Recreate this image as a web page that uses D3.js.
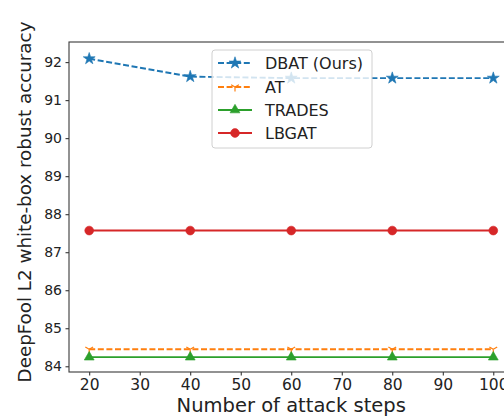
<!DOCTYPE html>
<html>
<head>
<meta charset="utf-8">
<script src="https://cdn.jsdelivr.net/npm/d3@7"></script>
<style>
  body { margin: 0; background: #fff; }
  text { font-family: "DejaVu Sans", sans-serif; fill: #222; }
</style>
</head>
<body>
<svg id="chart" width="504" height="420"></svg>
<script>
// Attack steps on the x axis
const steps = [20, 40, 60, 80, 100];

// Robust accuracy (%) per method
const dbatValues   = [92.09, 91.62, 91.58, 91.58, 91.58];
const atValues     = [84.45, 84.45, 84.45, 84.45, 84.45];
const tradesValues = [84.24, 84.24, 84.24, 84.24, 84.24];
const lbgatValues  = [87.57, 87.57, 87.57, 87.57, 87.57];

const seriesNames = ["DBAT (Ours)", "AT", "TRADES", "LBGAT"];

// Tick labels
const xTicks = [20, 30, 40, 50, 60, 70, 80, 90, 100];
const yTicks = [84, 85, 86, 87, 88, 89, 90, 91, 92];

const xLabel = "Number of attack steps";
const yLabel = "DeepFool L2 white-box robust accuracy";

const series = [
  { name: seriesNames[0], values: dbatValues,   color: "#1f77b4", dash: "6,2.6", marker: "star" },
  { name: seriesNames[1], values: atValues,     color: "#ff7f0e", dash: "6,2.6", marker: "tri" },
  { name: seriesNames[2], values: tradesValues, color: "#2ca02c", dash: null,    marker: "triangle" },
  { name: seriesNames[3], values: lbgatValues,  color: "#d62728", dash: null,    marker: "circle" }
];

const svg = d3.select("#chart");
const plot = { left: 69, right: 513.5, top: 42, bottom: 372 };

const x = d3.scaleLinear().domain([16, 104]).range([plot.left, plot.right]);
const y = d3.scaleLinear().domain([83.85, 92.53]).range([plot.bottom, plot.top]);

svg.append("defs").append("clipPath").attr("id", "plot-clip")
  .append("rect")
  .attr("x", plot.left).attr("y", plot.top)
  .attr("width", plot.right - plot.left).attr("height", plot.bottom - plot.top);

// Axes
const xAxis = svg.append("g")
  .attr("transform", `translate(0,${plot.bottom})`)
  .call(d3.axisBottom(x).tickValues(xTicks).tickSize(3.5).tickPadding(3.5));
xAxis.select(".domain").remove();
xAxis.selectAll("line").attr("stroke", "#222").attr("stroke-width", 1);
xAxis.selectAll("text").style("font-size", "15.5px").attr("fill", "#222");

const yAxis = svg.append("g")
  .attr("transform", `translate(${plot.left},0)`)
  .call(d3.axisLeft(y).tickValues(yTicks).tickSize(3.5).tickPadding(3.5));
yAxis.select(".domain").remove();
yAxis.selectAll("line").attr("stroke", "#222").attr("stroke-width", 1);
yAxis.selectAll("text").style("font-size", "14px").attr("fill", "#222");

// Axis labels
svg.append("text")
  .attr("x", (plot.left + plot.right) / 2)
  .attr("y", 412)
  .attr("text-anchor", "middle")
  .style("font-size", "19.5px")
  .text(xLabel);

svg.append("text")
  .attr("transform", `translate(31,${(plot.top + plot.bottom) / 2 - 5}) rotate(-90)`)
  .attr("text-anchor", "middle")
  .style("font-size", "18.3px")
  .text(yLabel);

// Marker drawing
function drawMarker(g, type, color, cx, cy) {
  if (type === "star") {
    g.append("path")
      .attr("d", d3.symbol(d3.symbolStar, 44)())
      .attr("transform", `translate(${cx},${cy})`)
      .attr("fill", color).attr("stroke", color).attr("stroke-width", 0.6);
  } else if (type === "triangle") {
    g.append("path")
      .attr("d", d3.symbol(d3.symbolTriangle, 42)())
      .attr("transform", `translate(${cx},${cy})`)
      .attr("fill", color).attr("stroke", color).attr("stroke-width", 0.6);
  } else if (type === "circle") {
    g.append("circle")
      .attr("cx", cx).attr("cy", cy).attr("r", 4.4)
      .attr("fill", color).attr("stroke", color).attr("stroke-width", 0.6);
  } else if (type === "tri") {
    const r = 4.5;
    [90, 210, 330].forEach(a => {
      const rad = a * Math.PI / 180;
      g.append("line")
        .attr("x1", cx).attr("y1", cy)
        .attr("x2", cx + r * Math.cos(rad)).attr("y2", cy + r * Math.sin(rad))
        .attr("stroke", color).attr("stroke-width", 1.2);
    });
  }
}

// Lines and markers
const line = d3.line().x((d, i) => x(steps[i])).y(d => y(d));
const dataLayer = svg.append("g").attr("clip-path", "url(#plot-clip)");

series.forEach(s => {
  const g = dataLayer.append("g");
  g.append("path")
    .datum(s.values)
    .attr("d", line)
    .attr("fill", "none")
    .attr("stroke", s.color)
    .attr("stroke-width", 1.9)
    .attr("stroke-dasharray", s.dash);
  s.values.forEach((v, i) => drawMarker(g, s.marker, s.color, x(steps[i]), y(v)));
});

// Frame (left, bottom, top spines; right spine lies past the page edge)
svg.append("rect")
  .attr("x", plot.left).attr("y", plot.top)
  .attr("width", plot.right - plot.left).attr("height", plot.bottom - plot.top)
  .attr("fill", "none").attr("stroke", "#3a3a3a").attr("stroke-width", 1.1);

// Legend
const legend = svg.append("g");
legend.append("rect")
  .attr("x", 212).attr("y", 50).attr("width", 160).attr("height", 98)
  .attr("rx", 3)
  .attr("fill", "#fff").attr("fill-opacity", 0.8)
  .attr("stroke", "#d0d0d0").attr("stroke-width", 1);

const rowY = [63, 87, 110, 133];
series.forEach((s, i) => {
  const row = legend.append("g");
  row.append("line")
    .attr("x1", 218).attr("x2", 252)
    .attr("y1", rowY[i]).attr("y2", rowY[i])
    .attr("stroke", s.color).attr("stroke-width", 1.9)
    .attr("stroke-dasharray", s.dash);
  drawMarker(row, s.marker, s.color, 235, rowY[i]);
  row.append("text")
    .attr("x", 265).attr("y", rowY[i] + 6)
    .style("font-size", "16px")
    .text(s.name);
});
</script>
</body>
</html>
